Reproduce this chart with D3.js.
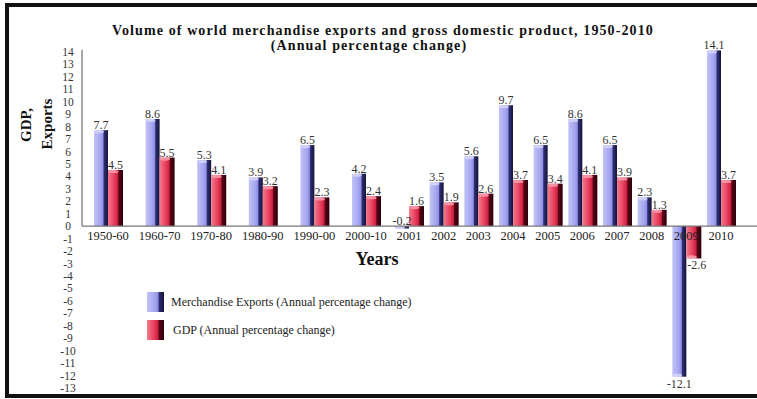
<!DOCTYPE html>
<html>
<head>
<meta charset="utf-8">
<script src="https://cdn.jsdelivr.net/npm/d3@7"></script>
<style>
  body { margin: 0; background: #fff; }
  svg { display: block; }
</style>
</head>
<body>
<div id="chart"></div>
<script>
// ---------------------------- DATA ----------------------------//
const categories = ["1950-60", "1960-70", "1970-80", "1980-90", "1990-00", "2000-10",
  "2001", "2002", "2003", "2004", "2005", "2006", "2007", "2008", "2009", "2010"];
const exportsPct = [7.7, 8.6, 5.3, 3.9, 6.5, 4.2, -0.2, 3.5, 5.6, 9.7, 6.5, 8.6, 6.5, 2.3, -12.1, 14.1];
const gdpPct = [4.5, 5.5, 4.1, 3.2, 2.3, 2.4, 1.6, 1.9, 2.6, 3.7, 3.4, 4.1, 3.9, 1.3, -2.6, 3.7];
const yTicks = d3.range(-13, 15);
const seriesNames = ["Merchandise Exports (Annual percentage change)", "GDP (Annual percentage change)"];

const width = 757;
const height = 399;
const serif = "'Liberation Serif', 'Times New Roman', serif";

const svg = d3.select("#chart").append("svg")
  .attr("width", width)
  .attr("height", height);

// gradients for the 3d bar look
const defs = svg.append("defs");
function grad(id, stops) {
  const g = defs.append("linearGradient").attr("id", id)
    .attr("x1", "0%").attr("x2", "100%").attr("y1", "0%").attr("y2", "0%");
  stops.forEach(function (s) {
    g.append("stop").attr("offset", s[0]).attr("stop-color", s[1]);
  });
}
grad("gExp", [["0%", "#c2c2f7"], ["45%", "#a6a6f0"], ["64%", "#9090e6"], ["72%", "#2e2e72"], ["100%", "#14143c"]]);
grad("gGdp", [["0%", "#f47a8e"], ["45%", "#e63a58"], ["64%", "#cc2040"], ["72%", "#5a0418"], ["100%", "#2c0008"]]);

// frame
svg.append("rect")
  .attr("x", 7).attr("y", 5)
  .attr("width", 800).attr("height", 391)
  .attr("fill", "none")
  .attr("stroke", "#111")
  .attr("stroke-width", 4);

// --------------------------- SCALES ---------------------------//
const y = d3.scaleLinear().domain([-13, 14]).range([387.9, 51.7]);
// decades are spaced wider than single years
const x = d3.scaleLinear().domain([0, 5, 6, 15]).range([108, 366, 409, 721]);
const bw = 14;
const fmt = function (d) { return d.toFixed(1); };

// ---------------------------- AXES ----------------------------//
const yAxis = svg.append("g")
  .attr("transform", "translate(68,0)")
  .call(d3.axisLeft(y).tickValues(yTicks).tickSize(0).tickPadding(0)
    .tickFormat(function (d) { return String(d); }));
yAxis.select(".domain").remove();
yAxis.selectAll("text")
  .attr("text-anchor", "middle")
  .attr("font-family", serif)
  .attr("font-size", "11.5px")
  .attr("fill", "#333");

svg.append("line")
  .attr("x1", 82).attr("x2", 82)
  .attr("y1", y(14) - 2).attr("y2", y(0))
  .attr("stroke", "#777").attr("stroke-width", 1.3);

// bars
function drawBars(vals, fill, capColor, offset, w) {
  const g = svg.append("g");
  g.selectAll("rect")
    .data(vals)
    .enter()
    .append("rect")
    .attr("x", function (d, i) { return x(i) + offset; })
    .attr("y", function (d) { return Math.min(y(d), y(0)); })
    .attr("width", w)
    .attr("height", function (d) { return Math.abs(y(d) - y(0)); })
    .attr("fill", fill);
  g.selectAll("ellipse")
    .data(vals)
    .enter()
    .append("ellipse")
    .attr("cx", function (d, i) { return x(i) + offset + w * 0.36; })
    .attr("cy", function (d) { return d >= 0 ? y(d) + 1.5 : y(d) - 1.5; })
    .attr("rx", w * 0.34)
    .attr("ry", 1.6)
    .attr("fill", capColor)
    .attr("opacity", 0.85);
  return g;
}
drawBars(exportsPct, "url(#gExp)", "#d6d6fb", -bw, bw);
drawBars(gdpPct, "url(#gGdp)", "#f7a0ae", 0, bw + 1);

svg.append("line")
  .attr("x1", 82).attr("x2", width)
  .attr("y1", y(0)).attr("y2", y(0))
  .attr("stroke", "#777").attr("stroke-width", 1.3);

// value labels
function valueLabels(vals, offset, w) {
  svg.append("g").selectAll("text")
    .data(vals)
    .enter()
    .append("text")
    .attr("x", function (d, i) { return x(i) + offset + w / 2 + (d < -1 && offset === 0 ? 3 : 0); })
    .attr("y", function (d) { return d < -1 ? y(d) + 11 : Math.min(y(d), y(0)) - 1; })
    .attr("text-anchor", "middle")
    .attr("font-family", serif)
    .attr("font-size", "12px")
    .attr("fill", "#333")
    .text(fmt);
}
valueLabels(exportsPct, -bw, bw);
valueLabels(gdpPct, 0, bw + 1);

// category labels
svg.append("g").selectAll("text")
  .data(categories)
  .enter()
  .append("text")
  .attr("x", function (d, i) { return x(i); })
  .attr("y", 240)
  .attr("text-anchor", "middle")
  .attr("font-family", serif)
  .attr("font-size", "12.5px")
  .attr("fill", "#222")
  .text(function (d) { return d; });

// ---------------------------- TEXT ----------------------------//
svg.append("text")
  .attr("x", 383).attr("y", 35)
  .attr("text-anchor", "middle")
  .attr("font-family", serif)
  .attr("font-weight", "bold")
  .attr("font-size", "14px")
  .attr("letter-spacing", "1.1px")
  .attr("fill", "#111")
  .text("Volume of world merchandise exports and gross domestic product, 1950-2010");
svg.append("text")
  .attr("x", 369).attr("y", 50)
  .attr("text-anchor", "middle")
  .attr("font-family", serif)
  .attr("font-weight", "bold")
  .attr("font-size", "14px")
  .attr("letter-spacing", "1.1px")
  .attr("fill", "#111")
  .text("(Annual percentage change)");

svg.append("text")
  .attr("x", 377).attr("y", 265)
  .attr("text-anchor", "middle")
  .attr("font-family", serif)
  .attr("font-weight", "bold")
  .attr("font-size", "18px")
  .attr("fill", "#111")
  .text("Years");

// y axis title, two lines rotated
svg.append("text")
  .attr("transform", "translate(31,125) rotate(-90)")
  .attr("text-anchor", "middle")
  .attr("font-family", serif)
  .attr("font-weight", "bold")
  .attr("font-size", "15px")
  .attr("fill", "#111")
  .text("GDP,");
svg.append("text")
  .attr("transform", "translate(52,124) rotate(-90)")
  .attr("text-anchor", "middle")
  .attr("font-family", serif)
  .attr("font-weight", "bold")
  .attr("font-size", "15px")
  .attr("fill", "#111")
  .text("Exports");

// --------------------------- LEGEND ---------------------------//
const legend = svg.append("g");
const legFill = ["url(#gExp)", "url(#gGdp)"];
const legY = [292, 320];
const legTextX = [171, 173];
seriesNames.forEach(function (name, i) {
  legend.append("rect")
    .attr("x", 147).attr("y", legY[i])
    .attr("width", 17).attr("height", 20)
    .attr("fill", legFill[i]);
  legend.append("text")
    .attr("x", legTextX[i]).attr("y", legY[i] + 14)
    .attr("font-family", serif)
    .attr("font-size", "12px")
    .attr("fill", "#222")
    .text(name);
});
</script>
</body>
</html>
